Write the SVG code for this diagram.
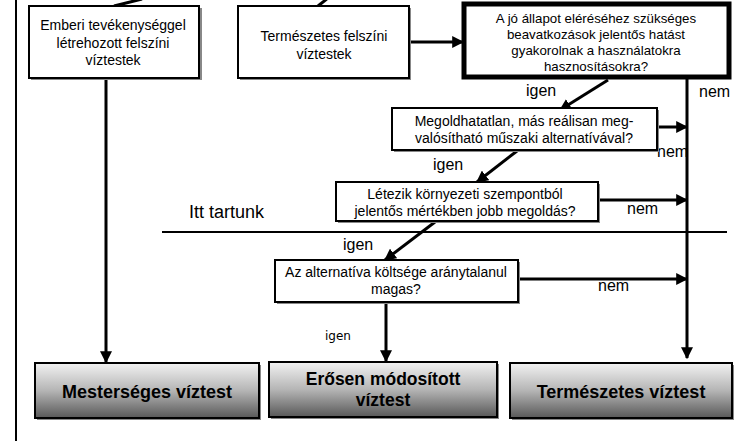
<svg xmlns="http://www.w3.org/2000/svg" width="735" height="441" viewBox="0 0 735 441">
<defs>
<linearGradient id="g" x1="0" y1="0" x2="0" y2="1">
<stop offset="0" stop-color="#f2f2f2"/>
<stop offset="0.5" stop-color="#b5b5b5"/>
<stop offset="1" stop-color="#585858"/>
</linearGradient>
<marker id="ah" viewBox="0 0 10 10" refX="9" refY="5" markerWidth="4" markerHeight="4" orient="auto" markerUnits="strokeWidth">
<path d="M0,0 L10,5 L0,10 z" fill="#000"/>
</marker>
</defs>
<style>
.box{fill:#fff;stroke:#000;stroke-width:2}
.sh{fill:#888}
.t{font-family:"Liberation Sans",Arial,sans-serif;font-size:14px;text-anchor:middle;fill:#000}
.t3{font-family:"Liberation Sans",Arial,sans-serif;font-size:13.3px;text-anchor:middle;fill:#000}
.lb{font-family:"Liberation Sans",Arial,sans-serif;font-size:16px;fill:#000}
.bt{font-family:"Liberation Sans",Arial,sans-serif;font-size:18px;font-weight:bold;text-anchor:middle;fill:#000}
.c{fill:none;stroke:#000;stroke-width:3}
.a{fill:none;stroke:#000;stroke-width:3;marker-end:url(#ah)}
.gb{fill:url(#g);stroke:#000;stroke-width:2}
</style>
<rect width="735" height="441" fill="#fff"/>
<line x1="16" y1="0" x2="16" y2="441" stroke="#000" stroke-width="2"/>
<line x1="162" y1="232" x2="727" y2="232" stroke="#000" stroke-width="2"/>
<text class="lb" x="189" y="218" style="font-size:18px">Itt tartunk</text>

<g id="connectors">
<line class="c" x1="114" y1="6" x2="142" y2="-1"/>
<line class="c" x1="318" y1="6" x2="328" y2="-2"/>
<line class="a" x1="410" y1="42" x2="463" y2="42"/>
<line class="a" x1="106" y1="79" x2="106" y2="362"/>
<line class="a" x1="687" y1="79" x2="687" y2="358"/>
<line class="a" x1="608" y1="80" x2="560" y2="110"/>
<line class="a" x1="657" y1="127" x2="687" y2="127"/>
<line class="a" x1="517" y1="151" x2="477" y2="182"/>
<line class="a" x1="598" y1="200" x2="687" y2="200"/>
<line class="a" x1="435" y1="222" x2="385" y2="260"/>
<line class="a" x1="518" y1="279" x2="687" y2="279"/>
<line class="a" x1="386" y1="302" x2="386" y2="361"/>
<text class="lb" x="699" y="97">nem</text>
<text class="lb" x="526" y="96">igen</text>
<text class="lb" x="657" y="157">nem</text>
<text class="lb" x="433" y="170">igen</text>
<text class="lb" x="627" y="214">nem</text>
<text class="lb" x="343" y="250">igen</text>
<text class="lb" x="598" y="291">nem</text>
<text x="325" y="340" style="font-family:'DejaVu Sans',sans-serif;font-size:12px;fill:#000">igen</text>
</g>

<g id="n1">
<rect class="sh" x="31" y="8" width="171" height="72"/>
<rect class="box" x="29" y="6" width="170" height="72"/>
<text class="t" x="113" y="30">Emberi tevékenységgel</text>
<text class="t" x="113" y="47.5">létrehozott felszíni</text>
<text class="t" x="113" y="65">víztestek</text>
</g>
<g id="n2">
<rect class="sh" x="240" y="8" width="171" height="72"/>
<rect class="box" x="238" y="6" width="171" height="72"/>
<text class="t" x="324" y="41">Természetes felszíni</text>
<text class="t" x="324" y="59">víztestek</text>
</g>
<g id="n3">
<rect x="464" y="4" width="265" height="73" fill="#fff" stroke="#000" stroke-width="5"/>
<text class="t3" x="596" y="23">A jó állapot eléréséhez szükséges</text>
<text class="t3" x="596" y="39">beavatkozások  jelentős hatást</text>
<text class="t3" x="596" y="55">gyakorolnak a használatokra</text>
<text class="t3" x="596" y="71">hasznosításokra?</text>
</g>
<g id="n4">
<rect class="sh" x="394" y="110" width="265" height="42"/>
<rect class="box" x="392" y="108" width="265" height="42"/>
<text class="t" x="524" y="126">Megoldhatatlan, más reálisan meg-</text>
<text class="t" x="524" y="143">valósítható műszaki alternatívával?</text>
</g>
<g id="n5">
<rect class="sh" x="338" y="184" width="262" height="39"/>
<rect class="box" x="336" y="182" width="262" height="39"/>
<text class="t" x="465" y="199">Létezik környezeti szempontból</text>
<text class="t" x="465" y="216">jelentős mértékben jobb megoldás?</text>
</g>
<g id="n6">
<rect class="sh" x="277" y="262" width="243" height="42"/>
<rect class="box" x="275" y="260" width="243" height="42"/>
<text class="t" x="396" y="277">Az alternatíva költsége aránytalanul</text>
<text class="t" x="396" y="294">magas?</text>
</g>
<g id="n7">
<rect class="sh" x="37" y="365" width="224" height="55"/>
<rect class="gb" x="35" y="363" width="224" height="55"/>
<text class="bt" x="147" y="398">Mesterséges víztest</text>
</g>
<g id="n8">
<rect class="sh" x="271" y="364" width="228" height="55"/>
<rect class="gb" x="269" y="362" width="228" height="55"/>
<text class="bt" x="383" y="385" style="font-size:17.5px">Erősen módosított</text>
<text class="bt" x="383" y="406" style="font-size:17.5px">víztest</text>
</g>
<g id="n9">
<rect class="sh" x="512" y="365" width="222" height="55"/>
<rect class="gb" x="510" y="363" width="222" height="55"/>
<text class="bt" x="621" y="398">Természetes víztest</text>
</g>
</svg>
